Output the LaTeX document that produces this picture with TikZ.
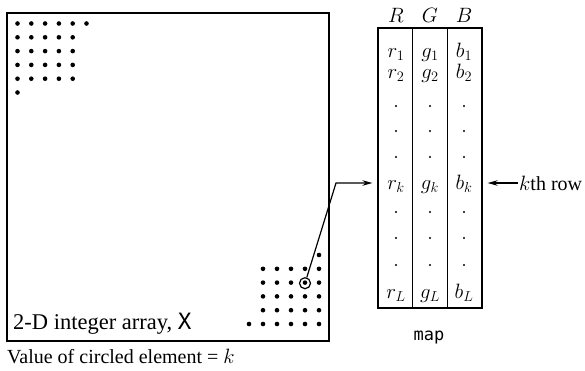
\documentclass[tikz,border=0pt]{standalone}
\usepackage{fontspec}
\setmainfont{Liberation Serif}
\setmonofont{DejaVu Sans Mono}
\usetikzlibrary{arrows.meta,calc}
\begin{document}
\begin{tikzpicture}[x=1pt,y=-1pt,
  every node/.style={font=\fontsize{20}{23}\selectfont},
  bigdot/.style={fill=black,draw=none},
  tinydot/.style={fill=black,draw=none},
  frame/.style={draw,line width=1.3pt},
  arr/.style={line width=1.2pt,-{Stealth[length=10pt,width=5.5pt]}},
  cell/.style={anchor=base,inner sep=0pt}]
\useasboundingbox (0,0) rectangle (585,370);
% array square
\node[frame,minimum width=322pt,minimum height=328pt,inner sep=0pt] (sq) at (168,177) {};
% top-left dots
\foreach \i in {0,...,5} \fill[bigdot] (17.5+13.8*\i,23.5) circle (2.3pt);
\foreach \j in {1,...,4} \foreach \i in {0,...,4} \fill[bigdot] (17.5+13.8*\i,23.5+13.8*\j) circle (2.3pt);
\fill[bigdot] (17.5,92.5) circle (2.3pt);
% bottom-right dots
\fill[bigdot] (319,255) circle (2.3pt);
\foreach \j in {1,...,4} \foreach \i in {1,...,5} \fill[bigdot] (249+14*\i,255+13.8*\j) circle (2.3pt);
\foreach \i in {0,...,5} \fill[bigdot] (249+14*\i,324) circle (2.3pt);
% circled element
\node[circle,draw,line width=1.2pt,minimum size=11pt,inner sep=0pt] (c) at (305,283.2) {};
\node[anchor=base west,inner sep=0pt,font=\fontsize{22.5}{25}\selectfont] (lab) at (13,329) {2-D integer array, \texttt{X}};
\node[anchor=base west,inner sep=0pt] (val) at (7,363) {Value of circled element = $k$};
% map table
\node[frame,minimum width=104pt,minimum height=280pt,inner sep=0pt] (map) at (430,168) {};
\draw[line width=1.3pt] ($(map.north west)!1/3!(map.north east)$) -- ($(map.south west)!1/3!(map.south east)$);
\draw[line width=1.3pt] ($(map.north west)!2/3!(map.north east)$) -- ($(map.south west)!2/3!(map.south east)$);
\node[cell] (hR) at (396,22) {$R$};
\node[cell] (hG) at (430,22) {$G$};
\node[cell] (hB) at (464,22) {$B$};
\node[cell] (r1) at (396,57) {$r_1$};
\node[cell] (g1) at (430,57) {$g_1$};
\node[cell] (b1) at (464,57) {$b_1$};
\node[cell] (r2) at (396,78) {$r_2$};
\node[cell] (g2) at (430,78) {$g_2$};
\node[cell] (b2) at (464,78) {$b_2$};
\node[cell] (rk) at (396,189) {$r_k$};
\node[cell] (gk) at (430,189) {$g_k$};
\node[cell] (bk) at (464,189) {$b_k$};
\node[cell] (rL) at (396,298) {$r_L$};
\node[cell] (gL) at (430,298) {$g_L$};
\node[cell] (bL) at (464,298) {$b_L$};
\foreach \y in {106,131,157,212,238,265}
  \foreach \x in {396,430,464} \fill[tinydot] (\x,\y) circle (1.1pt);
\node[anchor=base,inner sep=0pt] (mapname) at (429,340) {\texttt{\fontsize{17}{19}\selectfont map}};
% connector from circled element
\coordinate (bend) at (336,183);
\draw[arr,shorten >=5pt] (c) -- (bend) -- (bend -| map.west);
% kth row
\node[anchor=west,inner sep=1pt] (kth) at (518,183) {$k$th row};
\draw[arr,shorten >=5pt] (kth.west) -- (kth.west -| map.east);
\end{tikzpicture}
\end{document}
